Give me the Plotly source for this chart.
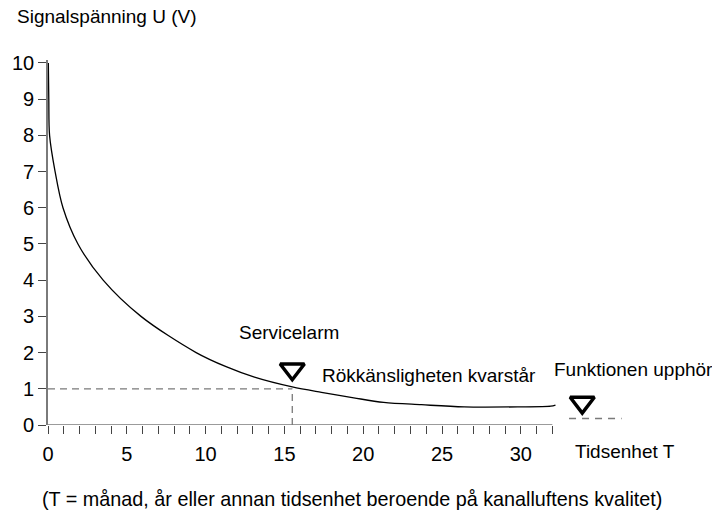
import plotly.graph_objects as go

# ---- data ----
time_vals = [0.02, 0.05, 0.1, 0.45, 0.95, 1.9, 3.5, 5.9, 9.4, 11.3, 13.1, 15.5,
             17.35, 19.4, 21.3, 23.7, 26.4, 29.8, 31.9, 32.2]
signal_vals = [10.0, 9.0, 8.0, 7.0, 6.0, 5.0, 4.0, 3.0, 2.0, 1.61, 1.32, 1.05,
               0.9, 0.75, 0.625, 0.56, 0.5, 0.5, 0.52, 0.55]

alarm_time = 15.5
alarm_level = 1.0

marker_times = [15.5, 33.9]
marker_levels = [1.54, 0.62]

end_times = [33.06, 36.4]
end_level = 0.18

axis_end = 32.0

x_major = [0, 5, 10, 15, 20, 25, 30]
x_minor = [v for v in range(1, 33) if v % 5 != 0]
y_ticks = list(range(0, 11))

FONT = "Liberation Sans, Arial, sans-serif"
GRAY = "#7a7a7a"

fig = go.Figure()

# dashed guide lines at alarm level
fig.add_trace(go.Scatter(x=[0, alarm_time], y=[alarm_level, alarm_level], mode="lines",
                         line=dict(color=GRAY, width=1.3, dash="7px,5px"),
                         hoverinfo="skip", showlegend=False))
fig.add_trace(go.Scatter(x=[alarm_time, alarm_time], y=[0, alarm_level], mode="lines",
                         line=dict(color=GRAY, width=1.3, dash="7px,5px"),
                         hoverinfo="skip", showlegend=False))
fig.add_trace(go.Scatter(x=end_times, y=[end_level, end_level], mode="lines",
                         line=dict(color=GRAY, width=1.3, dash="7px,6px"),
                         hoverinfo="skip", showlegend=False))

# x axis line (ends before the plot edge)
fig.add_trace(go.Scatter(x=[0, axis_end], y=[0, 0], mode="lines",
                         line=dict(color=GRAY, width=1.6),
                         hoverinfo="skip", showlegend=False))

# signal curve
fig.add_trace(go.Scatter(x=time_vals, y=signal_vals, mode="lines",
                         line=dict(color="black", width=1.3, shape="spline", smoothing=0.9),
                         showlegend=False))

# triangle markers
fig.add_trace(go.Scatter(x=marker_times, y=marker_levels, mode="markers",
                         marker=dict(symbol="triangle-down-open", size=21, color="black",
                                     line=dict(color="black", width=3.5)),
                         cliponaxis=False, showlegend=False))

W, H = 712, 513
L, R, T, B = 45, 73, 60, 88
pw = W - L - R
ph = H - T - B


def px(x):
    return (x - L) / pw


def py(y):
    return (H - B - y) / ph


annots = [
    ("Signalspänning U (V)", 12, 17, 19),
    ("Servicelarm", 235, 332, 19),
    ("Rökkänsligheten kvarstår", 318, 375, 19),
    ("Funktionen upphör", 552, 369, 19),
    ("Tidsenhet T", 573, 451, 19),
    ("(T = månad, år eller annan tidsenhet beroende på kanalluftens kvalitet)", 37, 499, 19.8),
]
for text, x, y, fs in annots:
    fig.add_annotation(text=text, xref="paper", yref="paper", x=px(x), y=py(y),
                       xanchor="left", yanchor="middle", showarrow=False,
                       font=dict(family=FONT, size=fs, color="black"))

fig.update_layout(
    width=W, height=H,
    margin=dict(l=L, r=R, t=T, b=B),
    paper_bgcolor="white", plot_bgcolor="white",
    font=dict(family=FONT, size=19, color="black"),
    xaxis=dict(range=[0, 37.5], showgrid=False, zeroline=False, showline=False,
               tickmode="array", tickvals=x_major, ticktext=[str(v) for v in x_major],
               ticks="outside", ticklen=8, tickcolor="#444", tickwidth=1,
               ticklabelstandoff=3,
               tickfont=dict(family=FONT, size=20, color="black")),
    yaxis=dict(range=[0, 10.08], showgrid=False, zeroline=False, showline=True,
               linecolor=GRAY, linewidth=1.6,
               tickmode="array", tickvals=y_ticks,
               ticks="outside", ticklen=8, tickcolor="#444", tickwidth=1,
               tickfont=dict(family=FONT, size=20, color="black")),
)
fig.update_xaxes(minor=dict(tickmode="array", tickvals=x_minor, ticks="outside",
                            ticklen=8, tickcolor="#444", tickwidth=1, showgrid=False))

fig.write_html("out.html", config={"displayModeBar": False},
               post_script="document.body.style.margin='0';document.body.style.overflow='hidden';")
